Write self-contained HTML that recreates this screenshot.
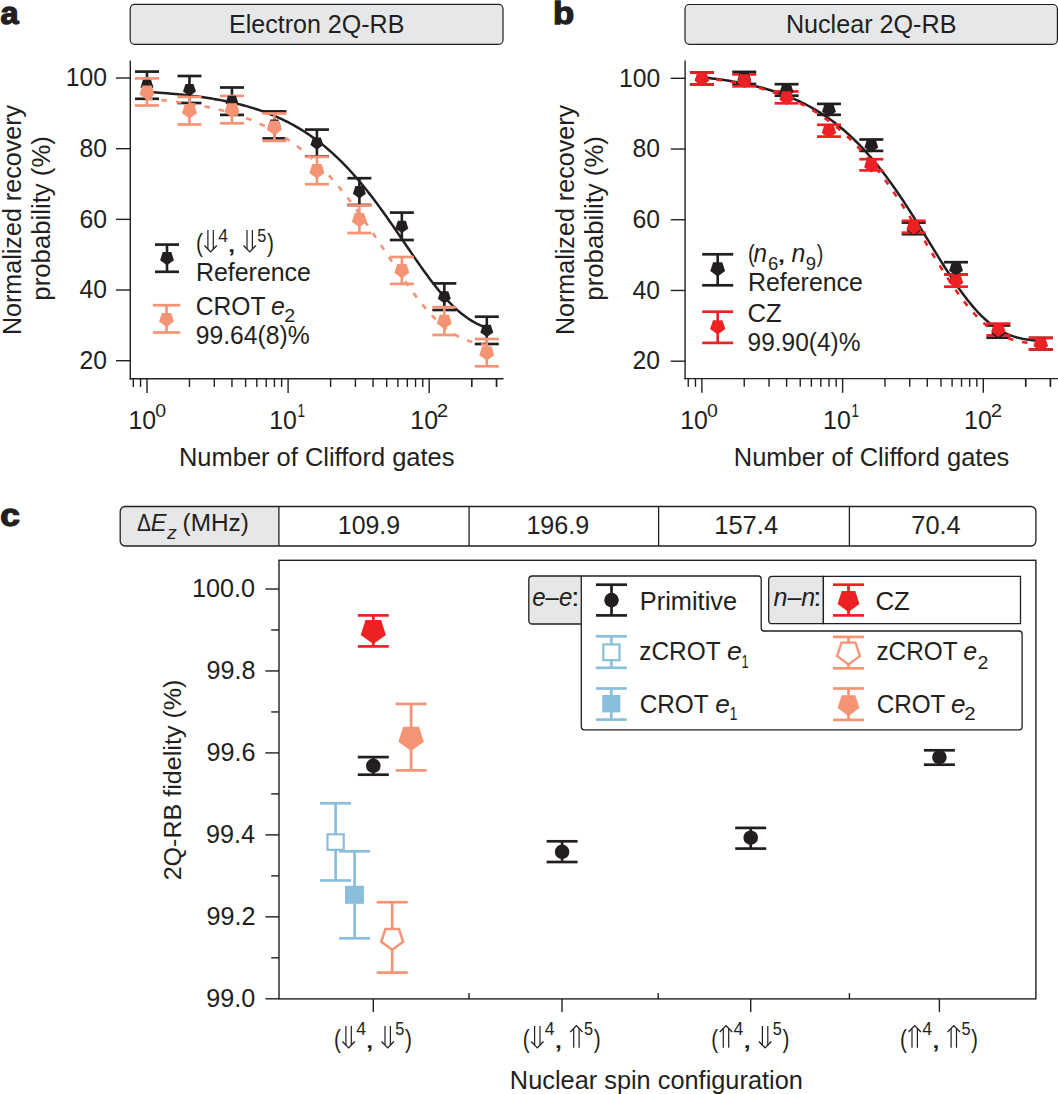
<!DOCTYPE html>
<html><head><meta charset="utf-8"><title>2Q-RB</title>
<style>
html,body{margin:0;padding:0;background:#fff;}
svg{display:block;}
text{font-family:"Liberation Sans",sans-serif;}
</style></head>
<body>
<svg width="1058" height="1094" viewBox="0 0 1058 1094">
<rect width="1058" height="1094" fill="#fff"/>
<text x="0.43" y="23.85" font-size="31.5" textLength="18.09" lengthAdjust="spacingAndGlyphs" fill="#231f20" style="font-weight:bold;"  stroke="#231f20" stroke-width="1.3" stroke-linejoin="round">a</text>
<text x="553.13" y="23.65" font-size="31.0" textLength="21.13" lengthAdjust="spacingAndGlyphs" fill="#231f20" style="font-weight:bold;"  stroke="#231f20" stroke-width="1.3" stroke-linejoin="round">b</text>
<text x="0.34" y="525.85" font-size="31.5" textLength="19.63" lengthAdjust="spacingAndGlyphs" fill="#231f20" style="font-weight:bold;"  stroke="#231f20" stroke-width="1.3" stroke-linejoin="round">c</text>
<rect x="130.20" y="4.40" width="372.80" height="39.90" rx="4.5" ry="4.5" fill="#e6e7e8" stroke="#231f20" stroke-width="1.2"/>
<text x="229.00" y="33.00" font-size="25.8" textLength="175.36" lengthAdjust="spacingAndGlyphs" fill="#231f20" style="" >Electron 2Q-RB</text>
<line x1="130.30" y1="60.40" x2="130.30" y2="379.50" stroke="#231f20" stroke-width="1.4" />
<line x1="129.60" y1="378.80" x2="503.50" y2="378.80" stroke="#231f20" stroke-width="1.4" />
<line x1="116.00" y1="78.00" x2="130.30" y2="78.00" stroke="#231f20" stroke-width="1.4" />
<text x="65.84" y="86.20" font-size="26.0" textLength="41.21" lengthAdjust="spacingAndGlyphs" fill="#231f20" style="" >100</text>
<line x1="116.00" y1="148.68" x2="130.30" y2="148.68" stroke="#231f20" stroke-width="1.4" />
<text x="79.42" y="156.88" font-size="26.0" textLength="27.47" lengthAdjust="spacingAndGlyphs" fill="#231f20" style="" >80</text>
<line x1="116.00" y1="219.36" x2="130.30" y2="219.36" stroke="#231f20" stroke-width="1.4" />
<text x="79.42" y="227.56" font-size="26.0" textLength="27.47" lengthAdjust="spacingAndGlyphs" fill="#231f20" style="" >60</text>
<line x1="116.00" y1="290.04" x2="130.30" y2="290.04" stroke="#231f20" stroke-width="1.4" />
<text x="79.42" y="298.24" font-size="26.0" textLength="27.47" lengthAdjust="spacingAndGlyphs" fill="#231f20" style="" >40</text>
<line x1="116.00" y1="360.72" x2="130.30" y2="360.72" stroke="#231f20" stroke-width="1.4" />
<text x="79.42" y="368.92" font-size="26.0" textLength="27.47" lengthAdjust="spacingAndGlyphs" fill="#231f20" style="" >20</text>
<line x1="147.00" y1="378.80" x2="147.00" y2="393.00" stroke="#231f20" stroke-width="1.4" />
<line x1="189.48" y1="378.80" x2="189.48" y2="387.00" stroke="#231f20" stroke-width="1.4" />
<line x1="214.32" y1="378.80" x2="214.32" y2="387.00" stroke="#231f20" stroke-width="1.4" />
<line x1="231.95" y1="378.80" x2="231.95" y2="387.00" stroke="#231f20" stroke-width="1.4" />
<line x1="245.62" y1="378.80" x2="245.62" y2="387.00" stroke="#231f20" stroke-width="1.4" />
<line x1="256.80" y1="378.80" x2="256.80" y2="387.00" stroke="#231f20" stroke-width="1.4" />
<line x1="266.24" y1="378.80" x2="266.24" y2="387.00" stroke="#231f20" stroke-width="1.4" />
<line x1="274.43" y1="378.80" x2="274.43" y2="387.00" stroke="#231f20" stroke-width="1.4" />
<line x1="281.64" y1="378.80" x2="281.64" y2="387.00" stroke="#231f20" stroke-width="1.4" />
<line x1="288.10" y1="378.80" x2="288.10" y2="393.00" stroke="#231f20" stroke-width="1.4" />
<line x1="330.58" y1="378.80" x2="330.58" y2="387.00" stroke="#231f20" stroke-width="1.4" />
<line x1="355.42" y1="378.80" x2="355.42" y2="387.00" stroke="#231f20" stroke-width="1.4" />
<line x1="373.05" y1="378.80" x2="373.05" y2="387.00" stroke="#231f20" stroke-width="1.4" />
<line x1="386.72" y1="378.80" x2="386.72" y2="387.00" stroke="#231f20" stroke-width="1.4" />
<line x1="397.90" y1="378.80" x2="397.90" y2="387.00" stroke="#231f20" stroke-width="1.4" />
<line x1="407.34" y1="378.80" x2="407.34" y2="387.00" stroke="#231f20" stroke-width="1.4" />
<line x1="415.53" y1="378.80" x2="415.53" y2="387.00" stroke="#231f20" stroke-width="1.4" />
<line x1="422.74" y1="378.80" x2="422.74" y2="387.00" stroke="#231f20" stroke-width="1.4" />
<line x1="429.20" y1="378.80" x2="429.20" y2="393.00" stroke="#231f20" stroke-width="1.4" />
<line x1="471.68" y1="378.80" x2="471.68" y2="387.00" stroke="#231f20" stroke-width="1.4" />
<line x1="496.52" y1="378.80" x2="496.52" y2="387.00" stroke="#231f20" stroke-width="1.4" />
<line x1="133.33" y1="378.80" x2="133.33" y2="387.00" stroke="#231f20" stroke-width="1.4" />
<line x1="140.54" y1="378.80" x2="140.54" y2="387.00" stroke="#231f20" stroke-width="1.4" />
<line x1="471.68" y1="378.80" x2="471.68" y2="387.00" stroke="#231f20" stroke-width="1.4" />
<line x1="496.52" y1="378.80" x2="496.52" y2="387.00" stroke="#231f20" stroke-width="1.4" />
<text x="128.51" y="429.00" font-size="25.9" textLength="27.69" lengthAdjust="spacingAndGlyphs" fill="#231f20" style="" >10</text>
<text x="155.32" y="416.80" font-size="18.5" textLength="10.89" lengthAdjust="spacingAndGlyphs" fill="#231f20" style="" >0</text>
<text x="269.21" y="429.00" font-size="25.9" textLength="27.69" lengthAdjust="spacingAndGlyphs" fill="#231f20" style="" >10</text>
<text x="297.52" y="416.80" font-size="18.5" textLength="7.50" lengthAdjust="spacingAndGlyphs" fill="#231f20" style="" >1</text>
<text x="410.31" y="429.00" font-size="25.9" textLength="27.69" lengthAdjust="spacingAndGlyphs" fill="#231f20" style="" >10</text>
<text x="436.88" y="416.80" font-size="18.5" textLength="11.36" lengthAdjust="spacingAndGlyphs" fill="#231f20" style="" >2</text>
<text x="178.96" y="465.80" font-size="25.8" textLength="275.53" lengthAdjust="spacingAndGlyphs" fill="#231f20" style="" >Number of Clifford gates</text>
<text transform="translate(20.70,335.11) rotate(-90)" x="0" y="0" font-size="25.8" textLength="230.18" lengthAdjust="spacingAndGlyphs" fill="#231f20">Normalized recovery</text>
<text transform="translate(49.60,300.64) rotate(-90)" x="0" y="0" font-size="25.8" textLength="164.51" lengthAdjust="spacingAndGlyphs" fill="#231f20">probability (%)</text>
<line x1="147.00" y1="71.60" x2="147.00" y2="98.80" stroke="#231f20" stroke-width="2.6" />
<line x1="135.00" y1="71.60" x2="159.00" y2="71.60" stroke="#231f20" stroke-width="2.7" />
<line x1="135.00" y1="98.80" x2="159.00" y2="98.80" stroke="#231f20" stroke-width="2.7" />
<line x1="189.48" y1="76.00" x2="189.48" y2="103.00" stroke="#231f20" stroke-width="2.6" />
<line x1="177.48" y1="76.00" x2="201.48" y2="76.00" stroke="#231f20" stroke-width="2.7" />
<line x1="177.48" y1="103.00" x2="201.48" y2="103.00" stroke="#231f20" stroke-width="2.7" />
<line x1="231.95" y1="87.50" x2="231.95" y2="114.90" stroke="#231f20" stroke-width="2.6" />
<line x1="219.95" y1="87.50" x2="243.95" y2="87.50" stroke="#231f20" stroke-width="2.7" />
<line x1="219.95" y1="114.90" x2="243.95" y2="114.90" stroke="#231f20" stroke-width="2.7" />
<line x1="274.43" y1="111.40" x2="274.43" y2="138.40" stroke="#231f20" stroke-width="2.6" />
<line x1="262.43" y1="111.40" x2="286.43" y2="111.40" stroke="#231f20" stroke-width="2.7" />
<line x1="262.43" y1="138.40" x2="286.43" y2="138.40" stroke="#231f20" stroke-width="2.7" />
<line x1="316.90" y1="129.60" x2="316.90" y2="156.40" stroke="#231f20" stroke-width="2.6" />
<line x1="304.90" y1="129.60" x2="328.90" y2="129.60" stroke="#231f20" stroke-width="2.7" />
<line x1="304.90" y1="156.40" x2="328.90" y2="156.40" stroke="#231f20" stroke-width="2.7" />
<line x1="359.38" y1="178.20" x2="359.38" y2="205.00" stroke="#231f20" stroke-width="2.6" />
<line x1="347.38" y1="178.20" x2="371.38" y2="178.20" stroke="#231f20" stroke-width="2.7" />
<line x1="347.38" y1="205.00" x2="371.38" y2="205.00" stroke="#231f20" stroke-width="2.7" />
<line x1="401.85" y1="212.60" x2="401.85" y2="240.00" stroke="#231f20" stroke-width="2.6" />
<line x1="389.85" y1="212.60" x2="413.85" y2="212.60" stroke="#231f20" stroke-width="2.7" />
<line x1="389.85" y1="240.00" x2="413.85" y2="240.00" stroke="#231f20" stroke-width="2.7" />
<line x1="444.33" y1="283.40" x2="444.33" y2="310.00" stroke="#231f20" stroke-width="2.6" />
<line x1="432.33" y1="283.40" x2="456.33" y2="283.40" stroke="#231f20" stroke-width="2.7" />
<line x1="432.33" y1="310.00" x2="456.33" y2="310.00" stroke="#231f20" stroke-width="2.7" />
<line x1="486.80" y1="316.70" x2="486.80" y2="344.00" stroke="#231f20" stroke-width="2.6" />
<line x1="474.80" y1="316.70" x2="498.80" y2="316.70" stroke="#231f20" stroke-width="2.7" />
<line x1="474.80" y1="344.00" x2="498.80" y2="344.00" stroke="#231f20" stroke-width="2.7" />
<polyline points="147.00,91.95 148.70,92.05 150.40,92.15 152.10,92.26 153.80,92.37 155.50,92.48 157.19,92.60 158.89,92.72 160.59,92.84 162.29,92.96 163.99,93.09 165.69,93.23 167.39,93.36 169.09,93.50 170.79,93.65 172.49,93.80 174.18,93.95 175.88,94.10 177.58,94.26 179.28,94.43 180.98,94.60 182.68,94.77 184.38,94.95 186.08,95.14 187.78,95.33 189.48,95.52 191.17,95.72 192.87,95.92 194.57,96.13 196.27,96.35 197.97,96.57 199.67,96.80 201.37,97.03 203.07,97.27 204.77,97.52 206.47,97.77 208.16,98.04 209.86,98.30 211.56,98.58 213.26,98.86 214.96,99.15 216.66,99.45 218.36,99.75 220.06,100.07 221.76,100.39 223.46,100.72 225.15,101.06 226.85,101.41 228.55,101.76 230.25,102.13 231.95,102.51 233.65,102.89 235.35,103.29 237.05,103.70 238.75,104.12 240.45,104.55 242.14,104.99 243.84,105.44 245.54,105.90 247.24,106.38 248.94,106.86 250.64,107.37 252.34,107.88 254.04,108.41 255.74,108.95 257.44,109.50 259.13,110.07 260.83,110.65 262.53,111.25 264.23,111.86 265.93,112.49 267.63,113.13 269.33,113.79 271.03,114.47 272.73,115.16 274.43,115.87 276.13,116.60 277.82,117.35 279.52,118.11 281.22,118.89 282.92,119.70 284.62,120.52 286.32,121.36 288.02,122.22 289.72,123.10 291.42,124.01 293.12,124.93 294.81,125.88 296.51,126.84 298.21,127.83 299.91,128.85 301.61,129.88 303.31,130.95 305.01,132.03 306.71,133.14 308.41,134.27 310.11,135.43 311.80,136.62 313.50,137.83 315.20,139.06 316.90,140.33 318.60,141.62 320.30,142.93 322.00,144.28 323.70,145.65 325.40,147.05 327.10,148.48 328.79,149.94 330.49,151.43 332.19,152.94 333.89,154.49 335.59,156.07 337.29,157.67 338.99,159.31 340.69,160.97 342.39,162.67 344.09,164.39 345.78,166.15 347.48,167.94 349.18,169.75 350.88,171.60 352.58,173.48 354.28,175.38 355.98,177.32 357.68,179.29 359.38,181.28 361.08,183.31 362.77,185.36 364.47,187.45 366.17,189.56 367.87,191.69 369.57,193.86 371.27,196.05 372.97,198.27 374.67,200.51 376.37,202.78 378.07,205.06 379.76,207.38 381.46,209.71 383.16,212.06 384.86,214.44 386.56,216.83 388.26,219.24 389.96,221.66 391.66,224.10 393.36,226.55 395.06,229.01 396.75,231.49 398.45,233.97 400.15,236.46 401.85,238.95 403.55,241.44 405.25,243.94 406.95,246.44 408.65,248.93 410.35,251.42 412.05,253.90 413.75,256.38 415.44,258.84 417.14,261.29 418.84,263.72 420.54,266.14 422.24,268.54 423.94,270.91 425.64,273.26 427.34,275.59 429.04,277.88 430.74,280.15 432.43,282.38 434.13,284.57 435.83,286.73 437.53,288.85 439.23,290.93 440.93,292.97 442.63,294.96 444.33,296.90 446.03,298.80 447.73,300.64 449.42,302.43 451.12,304.18 452.82,305.86 454.52,307.49 456.22,309.07 457.92,310.59 459.62,312.05 461.32,313.46 463.02,314.80 464.72,316.09 466.41,317.32 468.11,318.50 469.81,319.61 471.51,320.67 473.21,321.67 474.91,322.62 476.61,323.51 478.31,324.34 480.01,325.13 481.71,325.86 483.40,326.55 485.10,327.19 486.80,327.78" fill="none" stroke="#231f20" stroke-width="2.5"  stroke-linejoin="round"/>
<polyline points="147.00,98.76 148.70,98.90 150.40,99.05 152.10,99.19 153.80,99.35 155.50,99.50 157.19,99.66 158.89,99.83 160.59,100.00 162.29,100.17 163.99,100.35 165.69,100.53 167.39,100.72 169.09,100.91 170.79,101.11 172.49,101.32 174.18,101.53 175.88,101.74 177.58,101.96 179.28,102.19 180.98,102.42 182.68,102.66 184.38,102.91 186.08,103.16 187.78,103.42 189.48,103.69 191.17,103.96 192.87,104.24 194.57,104.53 196.27,104.83 197.97,105.13 199.67,105.45 201.37,105.77 203.07,106.10 204.77,106.44 206.47,106.78 208.16,107.14 209.86,107.51 211.56,107.88 213.26,108.27 214.96,108.66 216.66,109.07 218.36,109.49 220.06,109.92 221.76,110.36 223.46,110.81 225.15,111.27 226.85,111.74 228.55,112.23 230.25,112.73 231.95,113.24 233.65,113.77 235.35,114.31 237.05,114.86 238.75,115.43 240.45,116.01 242.14,116.61 243.84,117.22 245.54,117.85 247.24,118.49 248.94,119.15 250.64,119.83 252.34,120.52 254.04,121.23 255.74,121.96 257.44,122.71 259.13,123.47 260.83,124.25 262.53,125.06 264.23,125.88 265.93,126.72 267.63,127.58 269.33,128.46 271.03,129.37 272.73,130.29 274.43,131.24 276.13,132.21 277.82,133.20 279.52,134.22 281.22,135.26 282.92,136.32 284.62,137.41 286.32,138.52 288.02,139.66 289.72,140.82 291.42,142.01 293.12,143.22 294.81,144.46 296.51,145.73 298.21,147.03 299.91,148.35 301.61,149.70 303.31,151.08 305.01,152.49 306.71,153.93 308.41,155.39 310.11,156.89 311.80,158.42 313.50,159.97 315.20,161.56 316.90,163.18 318.60,164.82 320.30,166.50 322.00,168.21 323.70,169.95 325.40,171.73 327.10,173.53 328.79,175.36 330.49,177.23 332.19,179.13 333.89,181.06 335.59,183.01 337.29,185.01 338.99,187.03 340.69,189.08 342.39,191.16 344.09,193.27 345.78,195.41 347.48,197.58 349.18,199.78 350.88,202.01 352.58,204.26 354.28,206.54 355.98,208.85 357.68,211.18 359.38,213.53 361.08,215.91 362.77,218.32 364.47,220.74 366.17,223.18 367.87,225.65 369.57,228.13 371.27,230.62 372.97,233.14 374.67,235.66 376.37,238.20 378.07,240.75 379.76,243.31 381.46,245.88 383.16,248.45 384.86,251.02 386.56,253.60 388.26,256.18 389.96,258.75 391.66,261.32 393.36,263.89 395.06,266.44 396.75,268.99 398.45,271.52 400.15,274.04 401.85,276.54 403.55,279.02 405.25,281.48 406.95,283.91 408.65,286.32 410.35,288.70 412.05,291.05 413.75,293.36 415.44,295.64 417.14,297.88 418.84,300.08 420.54,302.24 422.24,304.35 423.94,306.42 425.64,308.44 427.34,310.41 429.04,312.33 430.74,314.20 432.43,316.01 434.13,317.77 435.83,319.47 437.53,321.12 439.23,322.70 440.93,324.23 442.63,325.70 444.33,327.11 446.03,328.46 447.73,329.74 449.42,330.97 451.12,332.14 452.82,333.25 454.52,334.30 456.22,335.29 457.92,336.23 459.62,337.11 461.32,337.94 463.02,338.71 464.72,339.43 466.41,340.11 468.11,340.73 469.81,341.31 471.51,341.84 473.21,342.33 474.91,342.78 476.61,343.19 478.31,343.57 480.01,343.91 481.71,344.22 483.40,344.49 485.10,344.74 486.80,344.97" fill="none" stroke="#f59375" stroke-width="2.6" stroke-dasharray="5.6 8.9" stroke-linejoin="round"/>
<line x1="147.00" y1="78.40" x2="147.00" y2="105.50" stroke="#f59375" stroke-width="2.6" />
<line x1="135.00" y1="78.40" x2="159.00" y2="78.40" stroke="#f59375" stroke-width="2.7" />
<line x1="135.00" y1="105.50" x2="159.00" y2="105.50" stroke="#f59375" stroke-width="2.7" />
<line x1="189.48" y1="96.90" x2="189.48" y2="124.50" stroke="#f59375" stroke-width="2.6" />
<line x1="177.48" y1="96.90" x2="201.48" y2="96.90" stroke="#f59375" stroke-width="2.7" />
<line x1="177.48" y1="124.50" x2="201.48" y2="124.50" stroke="#f59375" stroke-width="2.7" />
<line x1="231.95" y1="95.90" x2="231.95" y2="123.30" stroke="#f59375" stroke-width="2.6" />
<line x1="219.95" y1="95.90" x2="243.95" y2="95.90" stroke="#f59375" stroke-width="2.7" />
<line x1="219.95" y1="123.30" x2="243.95" y2="123.30" stroke="#f59375" stroke-width="2.7" />
<line x1="274.43" y1="113.50" x2="274.43" y2="140.90" stroke="#f59375" stroke-width="2.6" />
<line x1="262.43" y1="113.50" x2="286.43" y2="113.50" stroke="#f59375" stroke-width="2.7" />
<line x1="262.43" y1="140.90" x2="286.43" y2="140.90" stroke="#f59375" stroke-width="2.7" />
<line x1="316.90" y1="156.80" x2="316.90" y2="184.20" stroke="#f59375" stroke-width="2.6" />
<line x1="304.90" y1="156.80" x2="328.90" y2="156.80" stroke="#f59375" stroke-width="2.7" />
<line x1="304.90" y1="184.20" x2="328.90" y2="184.20" stroke="#f59375" stroke-width="2.7" />
<line x1="359.38" y1="205.50" x2="359.38" y2="233.00" stroke="#f59375" stroke-width="2.6" />
<line x1="347.38" y1="205.50" x2="371.38" y2="205.50" stroke="#f59375" stroke-width="2.7" />
<line x1="347.38" y1="233.00" x2="371.38" y2="233.00" stroke="#f59375" stroke-width="2.7" />
<line x1="401.85" y1="257.00" x2="401.85" y2="283.90" stroke="#f59375" stroke-width="2.6" />
<line x1="389.85" y1="257.00" x2="413.85" y2="257.00" stroke="#f59375" stroke-width="2.7" />
<line x1="389.85" y1="283.90" x2="413.85" y2="283.90" stroke="#f59375" stroke-width="2.7" />
<line x1="444.33" y1="307.20" x2="444.33" y2="335.00" stroke="#f59375" stroke-width="2.6" />
<line x1="432.33" y1="307.20" x2="456.33" y2="307.20" stroke="#f59375" stroke-width="2.7" />
<line x1="432.33" y1="335.00" x2="456.33" y2="335.00" stroke="#f59375" stroke-width="2.7" />
<line x1="486.80" y1="339.00" x2="486.80" y2="366.30" stroke="#f59375" stroke-width="2.6" />
<line x1="474.80" y1="339.00" x2="498.80" y2="339.00" stroke="#f59375" stroke-width="2.7" />
<line x1="474.80" y1="366.30" x2="498.80" y2="366.30" stroke="#f59375" stroke-width="2.7" />
<polygon points="147.00,92.00 140.53,87.30 143.00,79.70 151.00,79.70 153.47,87.30" fill="#231f20"/>
<polygon points="189.48,96.30 183.01,91.60 185.48,84.00 193.47,84.00 195.94,91.60" fill="#231f20"/>
<polygon points="231.95,108.00 225.48,103.30 227.95,95.70 235.95,95.70 238.42,103.30" fill="#231f20"/>
<polygon points="274.43,131.70 267.96,127.00 270.43,119.40 278.42,119.40 280.89,127.00" fill="#231f20"/>
<polygon points="316.90,149.80 310.43,145.10 312.90,137.50 320.90,137.50 323.37,145.10" fill="#231f20"/>
<polygon points="359.38,198.40 352.91,193.70 355.38,186.10 363.37,186.10 365.84,193.70" fill="#231f20"/>
<polygon points="401.85,233.10 395.38,228.40 397.86,220.80 405.85,220.80 408.32,228.40" fill="#231f20"/>
<polygon points="444.33,303.50 437.86,298.80 440.33,291.20 448.32,291.20 450.79,298.80" fill="#231f20"/>
<polygon points="486.80,337.10 480.34,332.40 482.81,324.80 490.80,324.80 493.27,332.40" fill="#231f20"/>
<polygon points="147.00,99.90 139.49,94.44 142.36,85.61 151.64,85.61 154.51,94.44" fill="#f59375"/>
<polygon points="189.48,118.60 181.96,113.14 184.83,104.31 194.12,104.31 196.99,113.14" fill="#f59375"/>
<polygon points="231.95,117.50 224.44,112.04 227.31,103.21 236.59,103.21 239.46,112.04" fill="#f59375"/>
<polygon points="274.43,135.10 266.91,129.64 269.78,120.81 279.07,120.81 281.94,129.64" fill="#f59375"/>
<polygon points="316.90,178.40 309.39,172.94 312.26,164.11 321.54,164.11 324.41,172.94" fill="#f59375"/>
<polygon points="359.38,227.20 351.86,221.74 354.73,212.91 364.02,212.91 366.89,221.74" fill="#f59375"/>
<polygon points="401.85,278.30 394.34,272.84 397.21,264.01 406.50,264.01 409.37,272.84" fill="#f59375"/>
<polygon points="444.33,329.00 436.81,323.54 439.68,314.71 448.97,314.71 451.84,323.54" fill="#f59375"/>
<polygon points="486.80,360.60 479.29,355.14 482.16,346.31 491.45,346.31 494.32,355.14" fill="#f59375"/>
<line x1="167.00" y1="244.60" x2="167.00" y2="271.80" stroke="#231f20" stroke-width="2.6" />
<line x1="155.00" y1="244.60" x2="179.00" y2="244.60" stroke="#231f20" stroke-width="2.7" />
<line x1="155.00" y1="271.80" x2="179.00" y2="271.80" stroke="#231f20" stroke-width="2.7" />
<polygon points="167.00,265.30 160.06,260.26 162.71,252.09 171.29,252.09 173.94,260.26" fill="#231f20"/>
<line x1="166.50" y1="305.20" x2="166.50" y2="332.50" stroke="#f59375" stroke-width="2.6" />
<line x1="152.80" y1="305.20" x2="180.20" y2="305.20" stroke="#f59375" stroke-width="2.7" />
<line x1="152.80" y1="332.50" x2="180.20" y2="332.50" stroke="#f59375" stroke-width="2.7" />
<polygon points="166.50,327.00 159.08,321.61 161.92,312.89 171.08,312.89 173.92,321.61" fill="#f59375"/>
<rect x="685.00" y="4.50" width="372.40" height="39.80" rx="4.5" ry="4.5" fill="#e6e7e8" stroke="#231f20" stroke-width="1.2"/>
<text x="785.89" y="33.00" font-size="25.8" textLength="170.56" lengthAdjust="spacingAndGlyphs" fill="#231f20" style="" >Nuclear 2Q-RB</text>
<line x1="685.10" y1="60.40" x2="685.10" y2="379.30" stroke="#231f20" stroke-width="1.4" />
<line x1="684.40" y1="378.60" x2="1058.50" y2="378.60" stroke="#231f20" stroke-width="1.4" />
<line x1="670.80" y1="78.30" x2="685.10" y2="78.30" stroke="#231f20" stroke-width="1.4" />
<text x="619.04" y="86.50" font-size="26.0" textLength="41.21" lengthAdjust="spacingAndGlyphs" fill="#231f20" style="" >100</text>
<line x1="670.80" y1="149.02" x2="685.10" y2="149.02" stroke="#231f20" stroke-width="1.4" />
<text x="632.62" y="157.22" font-size="26.0" textLength="27.47" lengthAdjust="spacingAndGlyphs" fill="#231f20" style="" >80</text>
<line x1="670.80" y1="219.74" x2="685.10" y2="219.74" stroke="#231f20" stroke-width="1.4" />
<text x="632.62" y="227.94" font-size="26.0" textLength="27.47" lengthAdjust="spacingAndGlyphs" fill="#231f20" style="" >60</text>
<line x1="670.80" y1="290.46" x2="685.10" y2="290.46" stroke="#231f20" stroke-width="1.4" />
<text x="632.62" y="298.66" font-size="26.0" textLength="27.47" lengthAdjust="spacingAndGlyphs" fill="#231f20" style="" >40</text>
<line x1="670.80" y1="361.18" x2="685.10" y2="361.18" stroke="#231f20" stroke-width="1.4" />
<text x="632.62" y="369.38" font-size="26.0" textLength="27.47" lengthAdjust="spacingAndGlyphs" fill="#231f20" style="" >20</text>
<line x1="701.90" y1="378.60" x2="701.90" y2="392.80" stroke="#231f20" stroke-width="1.4" />
<line x1="744.25" y1="378.60" x2="744.25" y2="386.80" stroke="#231f20" stroke-width="1.4" />
<line x1="769.03" y1="378.60" x2="769.03" y2="386.80" stroke="#231f20" stroke-width="1.4" />
<line x1="786.61" y1="378.60" x2="786.61" y2="386.80" stroke="#231f20" stroke-width="1.4" />
<line x1="800.25" y1="378.60" x2="800.25" y2="386.80" stroke="#231f20" stroke-width="1.4" />
<line x1="811.39" y1="378.60" x2="811.39" y2="386.80" stroke="#231f20" stroke-width="1.4" />
<line x1="820.81" y1="378.60" x2="820.81" y2="386.80" stroke="#231f20" stroke-width="1.4" />
<line x1="828.96" y1="378.60" x2="828.96" y2="386.80" stroke="#231f20" stroke-width="1.4" />
<line x1="836.16" y1="378.60" x2="836.16" y2="386.80" stroke="#231f20" stroke-width="1.4" />
<line x1="842.60" y1="378.60" x2="842.60" y2="392.80" stroke="#231f20" stroke-width="1.4" />
<line x1="884.95" y1="378.60" x2="884.95" y2="386.80" stroke="#231f20" stroke-width="1.4" />
<line x1="909.73" y1="378.60" x2="909.73" y2="386.80" stroke="#231f20" stroke-width="1.4" />
<line x1="927.31" y1="378.60" x2="927.31" y2="386.80" stroke="#231f20" stroke-width="1.4" />
<line x1="940.95" y1="378.60" x2="940.95" y2="386.80" stroke="#231f20" stroke-width="1.4" />
<line x1="952.09" y1="378.60" x2="952.09" y2="386.80" stroke="#231f20" stroke-width="1.4" />
<line x1="961.51" y1="378.60" x2="961.51" y2="386.80" stroke="#231f20" stroke-width="1.4" />
<line x1="969.66" y1="378.60" x2="969.66" y2="386.80" stroke="#231f20" stroke-width="1.4" />
<line x1="976.86" y1="378.60" x2="976.86" y2="386.80" stroke="#231f20" stroke-width="1.4" />
<line x1="983.30" y1="378.60" x2="983.30" y2="392.80" stroke="#231f20" stroke-width="1.4" />
<line x1="1025.65" y1="378.60" x2="1025.65" y2="386.80" stroke="#231f20" stroke-width="1.4" />
<line x1="1050.43" y1="378.60" x2="1050.43" y2="386.80" stroke="#231f20" stroke-width="1.4" />
<line x1="688.26" y1="378.60" x2="688.26" y2="386.80" stroke="#231f20" stroke-width="1.4" />
<line x1="695.46" y1="378.60" x2="695.46" y2="386.80" stroke="#231f20" stroke-width="1.4" />
<line x1="1025.65" y1="378.60" x2="1025.65" y2="386.80" stroke="#231f20" stroke-width="1.4" />
<line x1="1050.43" y1="378.60" x2="1050.43" y2="386.80" stroke="#231f20" stroke-width="1.4" />
<text x="680.21" y="428.80" font-size="25.9" textLength="27.69" lengthAdjust="spacingAndGlyphs" fill="#231f20" style="" >10</text>
<text x="707.02" y="416.60" font-size="18.5" textLength="10.89" lengthAdjust="spacingAndGlyphs" fill="#231f20" style="" >0</text>
<text x="823.11" y="428.80" font-size="25.9" textLength="27.69" lengthAdjust="spacingAndGlyphs" fill="#231f20" style="" >10</text>
<text x="851.42" y="416.60" font-size="18.5" textLength="7.50" lengthAdjust="spacingAndGlyphs" fill="#231f20" style="" >1</text>
<text x="964.11" y="428.80" font-size="25.9" textLength="27.69" lengthAdjust="spacingAndGlyphs" fill="#231f20" style="" >10</text>
<text x="990.68" y="416.60" font-size="18.5" textLength="11.36" lengthAdjust="spacingAndGlyphs" fill="#231f20" style="" >2</text>
<text x="733.76" y="465.80" font-size="25.8" textLength="275.53" lengthAdjust="spacingAndGlyphs" fill="#231f20" style="" >Number of Clifford gates</text>
<text transform="translate(574.00,335.11) rotate(-90)" x="0" y="0" font-size="25.8" textLength="230.18" lengthAdjust="spacingAndGlyphs" fill="#231f20">Normalized recovery</text>
<text transform="translate(602.60,300.64) rotate(-90)" x="0" y="0" font-size="25.8" textLength="164.51" lengthAdjust="spacingAndGlyphs" fill="#231f20">probability (%)</text>
<line x1="701.90" y1="72.50" x2="701.90" y2="84.40" stroke="#231f20" stroke-width="2.6" />
<line x1="689.90" y1="72.50" x2="713.90" y2="72.50" stroke="#231f20" stroke-width="2.7" />
<line x1="689.90" y1="84.40" x2="713.90" y2="84.40" stroke="#231f20" stroke-width="2.7" />
<line x1="744.25" y1="71.90" x2="744.25" y2="84.00" stroke="#231f20" stroke-width="2.6" />
<line x1="732.25" y1="71.90" x2="756.25" y2="71.90" stroke="#231f20" stroke-width="2.7" />
<line x1="732.25" y1="84.00" x2="756.25" y2="84.00" stroke="#231f20" stroke-width="2.7" />
<line x1="786.61" y1="84.20" x2="786.61" y2="95.70" stroke="#231f20" stroke-width="2.6" />
<line x1="774.61" y1="84.20" x2="798.61" y2="84.20" stroke="#231f20" stroke-width="2.7" />
<line x1="774.61" y1="95.70" x2="798.61" y2="95.70" stroke="#231f20" stroke-width="2.7" />
<line x1="828.96" y1="103.90" x2="828.96" y2="114.80" stroke="#231f20" stroke-width="2.6" />
<line x1="816.96" y1="103.90" x2="840.96" y2="103.90" stroke="#231f20" stroke-width="2.7" />
<line x1="816.96" y1="114.80" x2="840.96" y2="114.80" stroke="#231f20" stroke-width="2.7" />
<line x1="871.32" y1="139.50" x2="871.32" y2="150.90" stroke="#231f20" stroke-width="2.6" />
<line x1="859.32" y1="139.50" x2="883.32" y2="139.50" stroke="#231f20" stroke-width="2.7" />
<line x1="859.32" y1="150.90" x2="883.32" y2="150.90" stroke="#231f20" stroke-width="2.7" />
<line x1="913.67" y1="222.60" x2="913.67" y2="234.20" stroke="#231f20" stroke-width="2.6" />
<line x1="901.67" y1="222.60" x2="925.67" y2="222.60" stroke="#231f20" stroke-width="2.7" />
<line x1="901.67" y1="234.20" x2="925.67" y2="234.20" stroke="#231f20" stroke-width="2.7" />
<line x1="956.03" y1="262.20" x2="956.03" y2="274.60" stroke="#231f20" stroke-width="2.6" />
<line x1="944.03" y1="262.20" x2="968.03" y2="262.20" stroke="#231f20" stroke-width="2.7" />
<line x1="944.03" y1="274.60" x2="968.03" y2="274.60" stroke="#231f20" stroke-width="2.7" />
<line x1="998.38" y1="325.50" x2="998.38" y2="337.70" stroke="#231f20" stroke-width="2.6" />
<line x1="986.38" y1="325.50" x2="1010.38" y2="325.50" stroke="#231f20" stroke-width="2.7" />
<line x1="986.38" y1="337.70" x2="1010.38" y2="337.70" stroke="#231f20" stroke-width="2.7" />
<line x1="1040.74" y1="337.90" x2="1040.74" y2="349.50" stroke="#231f20" stroke-width="2.6" />
<line x1="1028.74" y1="337.90" x2="1052.74" y2="337.90" stroke="#231f20" stroke-width="2.7" />
<line x1="1028.74" y1="349.50" x2="1052.74" y2="349.50" stroke="#231f20" stroke-width="2.7" />
<polyline points="701.90,77.27 703.59,77.45 705.29,77.63 706.98,77.82 708.68,78.02 710.37,78.22 712.07,78.43 713.76,78.64 715.45,78.86 717.15,79.08 718.84,79.31 720.54,79.55 722.23,79.79 723.92,80.04 725.62,80.29 727.31,80.56 729.01,80.83 730.70,81.10 732.40,81.39 734.09,81.68 735.78,81.98 737.48,82.29 739.17,82.61 740.87,82.93 742.56,83.27 744.25,83.61 745.95,83.96 747.64,84.32 749.34,84.69 751.03,85.07 752.73,85.46 754.42,85.87 756.11,86.28 757.81,86.70 759.50,87.13 761.20,87.58 762.89,88.04 764.59,88.51 766.28,88.99 767.97,89.48 769.67,89.99 771.36,90.51 773.06,91.04 774.75,91.59 776.44,92.15 778.14,92.73 779.83,93.32 781.53,93.92 783.22,94.55 784.92,95.18 786.61,95.84 788.30,96.51 790.00,97.19 791.69,97.90 793.39,98.62 795.08,99.36 796.78,100.12 798.47,100.90 800.16,101.69 801.86,102.51 803.55,103.35 805.25,104.20 806.94,105.08 808.63,105.98 810.33,106.90 812.02,107.84 813.72,108.81 815.41,109.80 817.11,110.81 818.80,111.84 820.49,112.90 822.19,113.99 823.88,115.10 825.58,116.23 827.27,117.39 828.96,118.58 830.66,119.79 832.35,121.04 834.05,122.31 835.74,123.60 837.44,124.93 839.13,126.28 840.82,127.67 842.52,129.08 844.21,130.52 845.91,132.00 847.60,133.50 849.30,135.04 850.99,136.61 852.68,138.20 854.38,139.83 856.07,141.50 857.77,143.19 859.46,144.92 861.15,146.68 862.85,148.47 864.54,150.30 866.24,152.16 867.93,154.06 869.63,155.98 871.32,157.94 873.01,159.94 874.71,161.97 876.40,164.03 878.10,166.12 879.79,168.25 881.48,170.41 883.18,172.60 884.87,174.83 886.57,177.09 888.26,179.37 889.96,181.69 891.65,184.05 893.34,186.43 895.04,188.84 896.73,191.27 898.43,193.74 900.12,196.24 901.82,198.76 903.51,201.30 905.20,203.87 906.90,206.46 908.59,209.08 910.29,211.71 911.98,214.37 913.67,217.04 915.37,219.73 917.06,222.43 918.76,225.15 920.45,227.88 922.15,230.62 923.84,233.37 925.53,236.12 927.23,238.88 928.92,241.64 930.62,244.40 932.31,247.16 934.00,249.91 935.70,252.66 937.39,255.40 939.09,258.13 940.78,260.84 942.48,263.54 944.17,266.22 945.86,268.88 947.56,271.52 949.25,274.13 950.95,276.71 952.64,279.26 954.34,281.78 956.03,284.26 957.72,286.71 959.42,289.11 961.11,291.48 962.81,293.79 964.50,296.06 966.19,298.29 967.89,300.46 969.58,302.57 971.28,304.64 972.97,306.65 974.67,308.60 976.36,310.49 978.05,312.32 979.75,314.09 981.44,315.79 983.14,317.44 984.83,319.02 986.53,320.53 988.22,321.98 989.91,323.37 991.61,324.70 993.30,325.95 995.00,327.15 996.69,328.28 998.38,329.36 1000.08,330.37 1001.77,331.32 1003.47,332.21 1005.16,333.05 1006.86,333.83 1008.55,334.55 1010.24,335.23 1011.94,335.85 1013.63,336.43 1015.33,336.96 1017.02,337.45 1018.71,337.89 1020.41,338.30 1022.10,338.67 1023.80,339.00 1025.49,339.30 1027.19,339.58 1028.88,339.82 1030.57,340.03 1032.27,340.23 1033.96,340.40 1035.66,340.55 1037.35,340.68 1039.05,340.79 1040.74,340.89" fill="none" stroke="#231f20" stroke-width="2.5"  stroke-linejoin="round"/>
<polyline points="701.90,77.70 703.59,77.89 705.29,78.09 706.98,78.29 708.68,78.49 710.37,78.70 712.07,78.92 713.76,79.15 715.45,79.38 717.15,79.61 718.84,79.86 720.54,80.10 722.23,80.36 723.92,80.62 725.62,80.89 727.31,81.17 729.01,81.46 730.70,81.75 732.40,82.05 734.09,82.36 735.78,82.67 737.48,83.00 739.17,83.33 740.87,83.68 742.56,84.03 744.25,84.39 745.95,84.76 747.64,85.14 749.34,85.53 751.03,85.94 752.73,86.35 754.42,86.77 756.11,87.21 757.81,87.65 759.50,88.11 761.20,88.58 762.89,89.06 764.59,89.55 766.28,90.06 767.97,90.58 769.67,91.12 771.36,91.66 773.06,92.23 774.75,92.80 776.44,93.39 778.14,94.00 779.83,94.62 781.53,95.26 783.22,95.91 784.92,96.59 786.61,97.27 788.30,97.98 790.00,98.70 791.69,99.44 793.39,100.20 795.08,100.98 796.78,101.78 798.47,102.59 800.16,103.43 801.86,104.29 803.55,105.17 805.25,106.07 806.94,106.99 808.63,107.94 810.33,108.90 812.02,109.89 813.72,110.91 815.41,111.94 817.11,113.00 818.80,114.09 820.49,115.20 822.19,116.34 823.88,117.50 825.58,118.69 827.27,119.91 828.96,121.15 830.66,122.43 832.35,123.73 834.05,125.05 835.74,126.41 837.44,127.80 839.13,129.22 840.82,130.66 842.52,132.14 844.21,133.65 845.91,135.19 847.60,136.76 849.30,138.36 850.99,140.00 852.68,141.67 854.38,143.37 856.07,145.10 857.77,146.87 859.46,148.67 861.15,150.50 862.85,152.37 864.54,154.27 866.24,156.20 867.93,158.17 869.63,160.17 871.32,162.21 873.01,164.28 874.71,166.38 876.40,168.52 878.10,170.69 879.79,172.89 881.48,175.13 883.18,177.39 884.87,179.70 886.57,182.03 888.26,184.39 889.96,186.78 891.65,189.21 893.34,191.66 895.04,194.14 896.73,196.65 898.43,199.19 900.12,201.75 901.82,204.33 903.51,206.94 905.20,209.58 906.90,212.23 908.59,214.90 910.29,217.60 911.98,220.31 913.67,223.03 915.37,225.77 917.06,228.52 918.76,231.29 920.45,234.06 922.15,236.84 923.84,239.62 925.53,242.41 927.23,245.20 928.92,247.98 930.62,250.77 932.31,253.54 934.00,256.31 935.70,259.07 937.39,261.82 939.09,264.55 940.78,267.26 942.48,269.95 944.17,272.63 945.86,275.27 947.56,277.89 949.25,280.48 950.95,283.03 952.64,285.55 954.34,288.03 956.03,290.48 957.72,292.88 959.42,295.23 961.11,297.54 962.81,299.80 964.50,302.01 966.19,304.17 967.89,306.28 969.58,308.32 971.28,310.31 972.97,312.24 974.67,314.11 976.36,315.92 978.05,317.66 979.75,319.35 981.44,320.96 983.14,322.52 984.83,324.01 986.53,325.43 988.22,326.79 989.91,328.08 991.61,329.31 993.30,330.48 995.00,331.58 996.69,332.63 998.38,333.61 1000.08,334.53 1001.77,335.39 1003.47,336.20 1005.16,336.95 1006.86,337.65 1008.55,338.30 1010.24,338.90 1011.94,339.45 1013.63,339.96 1015.33,340.42 1017.02,340.85 1018.71,341.23 1020.41,341.58 1022.10,341.90 1023.80,342.18 1025.49,342.44 1027.19,342.66 1028.88,342.87 1030.57,343.04 1032.27,343.20 1033.96,343.34 1035.66,343.46 1037.35,343.57 1039.05,343.66 1040.74,343.74" fill="none" stroke="#ed2024" stroke-width="2.6" stroke-dasharray="5.6 8.9" stroke-linejoin="round"/>
<line x1="701.90" y1="72.50" x2="701.90" y2="84.40" stroke="#ed2024" stroke-width="2.6" />
<line x1="689.90" y1="72.50" x2="713.90" y2="72.50" stroke="#ed2024" stroke-width="2.7" />
<line x1="689.90" y1="84.40" x2="713.90" y2="84.40" stroke="#ed2024" stroke-width="2.7" />
<line x1="744.25" y1="74.40" x2="744.25" y2="86.30" stroke="#ed2024" stroke-width="2.6" />
<line x1="732.25" y1="74.40" x2="756.25" y2="74.40" stroke="#ed2024" stroke-width="2.7" />
<line x1="732.25" y1="86.30" x2="756.25" y2="86.30" stroke="#ed2024" stroke-width="2.7" />
<line x1="786.61" y1="91.40" x2="786.61" y2="103.30" stroke="#ed2024" stroke-width="2.6" />
<line x1="774.61" y1="91.40" x2="798.61" y2="91.40" stroke="#ed2024" stroke-width="2.7" />
<line x1="774.61" y1="103.30" x2="798.61" y2="103.30" stroke="#ed2024" stroke-width="2.7" />
<line x1="828.96" y1="124.80" x2="828.96" y2="136.60" stroke="#ed2024" stroke-width="2.6" />
<line x1="816.96" y1="124.80" x2="840.96" y2="124.80" stroke="#ed2024" stroke-width="2.7" />
<line x1="816.96" y1="136.60" x2="840.96" y2="136.60" stroke="#ed2024" stroke-width="2.7" />
<line x1="871.32" y1="159.20" x2="871.32" y2="170.40" stroke="#ed2024" stroke-width="2.6" />
<line x1="859.32" y1="159.20" x2="883.32" y2="159.20" stroke="#ed2024" stroke-width="2.7" />
<line x1="859.32" y1="170.40" x2="883.32" y2="170.40" stroke="#ed2024" stroke-width="2.7" />
<line x1="913.67" y1="220.80" x2="913.67" y2="232.70" stroke="#ed2024" stroke-width="2.6" />
<line x1="901.67" y1="220.80" x2="925.67" y2="220.80" stroke="#ed2024" stroke-width="2.7" />
<line x1="901.67" y1="232.70" x2="925.67" y2="232.70" stroke="#ed2024" stroke-width="2.7" />
<line x1="956.03" y1="274.70" x2="956.03" y2="286.70" stroke="#ed2024" stroke-width="2.6" />
<line x1="944.03" y1="274.70" x2="968.03" y2="274.70" stroke="#ed2024" stroke-width="2.7" />
<line x1="944.03" y1="286.70" x2="968.03" y2="286.70" stroke="#ed2024" stroke-width="2.7" />
<line x1="998.38" y1="323.60" x2="998.38" y2="335.40" stroke="#ed2024" stroke-width="2.6" />
<line x1="986.38" y1="323.60" x2="1010.38" y2="323.60" stroke="#ed2024" stroke-width="2.7" />
<line x1="986.38" y1="335.40" x2="1010.38" y2="335.40" stroke="#ed2024" stroke-width="2.7" />
<line x1="1040.74" y1="337.90" x2="1040.74" y2="349.50" stroke="#ed2024" stroke-width="2.6" />
<line x1="1028.74" y1="337.90" x2="1052.74" y2="337.90" stroke="#ed2024" stroke-width="2.7" />
<line x1="1028.74" y1="349.50" x2="1052.74" y2="349.50" stroke="#ed2024" stroke-width="2.7" />
<polygon points="701.90,85.80 694.96,80.76 697.61,72.59 706.19,72.59 708.84,80.76" fill="#231f20"/>
<polygon points="744.25,85.30 737.31,80.26 739.96,72.09 748.55,72.09 751.20,80.26" fill="#231f20"/>
<polygon points="786.61,97.30 779.67,92.26 782.32,84.09 790.90,84.09 793.55,92.26" fill="#231f20"/>
<polygon points="828.96,116.70 822.02,111.66 824.67,103.49 833.26,103.49 835.91,111.66" fill="#231f20"/>
<polygon points="871.32,152.50 864.38,147.46 867.03,139.29 875.61,139.29 878.26,147.46" fill="#231f20"/>
<polygon points="913.67,235.70 906.73,230.66 909.38,222.49 917.97,222.49 920.62,230.66" fill="#231f20"/>
<polygon points="956.03,275.70 949.09,270.66 951.74,262.49 960.32,262.49 962.97,270.66" fill="#231f20"/>
<polygon points="998.38,338.90 991.44,333.86 994.09,325.69 1002.68,325.69 1005.33,333.86" fill="#231f20"/>
<polygon points="1040.74,351.00 1033.80,345.96 1036.45,337.79 1045.03,337.79 1047.68,345.96" fill="#231f20"/>
<polygon points="701.90,86.10 694.67,80.85 697.43,72.35 706.37,72.35 709.13,80.85" fill="#ed2024"/>
<polygon points="744.25,88.00 737.03,82.75 739.79,74.25 748.72,74.25 751.48,82.75" fill="#ed2024"/>
<polygon points="786.61,105.00 779.38,99.75 782.14,91.25 791.08,91.25 793.84,99.75" fill="#ed2024"/>
<polygon points="828.96,138.30 821.74,133.05 824.50,124.55 833.43,124.55 836.19,133.05" fill="#ed2024"/>
<polygon points="871.32,172.40 864.09,167.15 866.85,158.65 875.79,158.65 878.55,167.15" fill="#ed2024"/>
<polygon points="913.67,234.40 906.45,229.15 909.21,220.65 918.14,220.65 920.90,229.15" fill="#ed2024"/>
<polygon points="956.03,288.30 948.80,283.05 951.56,274.55 960.50,274.55 963.26,283.05" fill="#ed2024"/>
<polygon points="998.38,337.10 991.16,331.85 993.92,323.35 1002.85,323.35 1005.61,331.85" fill="#ed2024"/>
<polygon points="1040.74,351.30 1033.51,346.05 1036.27,337.55 1045.21,337.55 1047.97,346.05" fill="#ed2024"/>
<line x1="717.70" y1="254.30" x2="717.70" y2="285.30" stroke="#231f20" stroke-width="2.6" />
<line x1="702.20" y1="254.30" x2="733.20" y2="254.30" stroke="#231f20" stroke-width="2.7" />
<line x1="702.20" y1="285.30" x2="733.20" y2="285.30" stroke="#231f20" stroke-width="2.7" />
<polygon points="717.70,276.40 710.28,271.01 713.12,262.29 722.28,262.29 725.12,271.01" fill="#231f20"/>
<line x1="717.70" y1="311.70" x2="717.70" y2="342.90" stroke="#ed2024" stroke-width="2.6" />
<line x1="702.20" y1="311.70" x2="733.20" y2="311.70" stroke="#ed2024" stroke-width="2.7" />
<line x1="702.20" y1="342.90" x2="733.20" y2="342.90" stroke="#ed2024" stroke-width="2.7" />
<polygon points="717.70,334.60 710.09,329.07 713.00,320.13 722.40,320.13 725.31,329.07" fill="#ed2024"/>
<text x="195.95" y="251.60" font-size="25.0" textLength="6.92" lengthAdjust="spacingAndGlyphs" fill="#231f20" style="" >(</text>
<path d="M204.40,245.50 L210.60,251.90 L216.80,245.50" fill="none" stroke="#231f20" stroke-width="1.35"/>
<path d="M207.90,230.00 V249.00 M213.30,230.00 V249.00" fill="none" stroke="#231f20" stroke-width="1.2"/>
<text x="218.15" y="241.70" font-size="18.3" textLength="9.81" lengthAdjust="spacingAndGlyphs" fill="#231f20" style="" >4</text>
<text x="226.57" y="251.60" font-size="25.0" textLength="10.28" lengthAdjust="spacingAndGlyphs" fill="#231f20" style="" >,</text>
<path d="M243.50,245.50 L249.70,251.90 L255.90,245.50" fill="none" stroke="#231f20" stroke-width="1.35"/>
<path d="M247.00,230.00 V249.00 M252.40,230.00 V249.00" fill="none" stroke="#231f20" stroke-width="1.2"/>
<text x="257.35" y="241.70" font-size="18.3" textLength="9.04" lengthAdjust="spacingAndGlyphs" fill="#231f20" style="" >5</text>
<text x="266.99" y="251.60" font-size="25.0" textLength="6.92" lengthAdjust="spacingAndGlyphs" fill="#231f20" style="" >)</text>
<text x="195.90" y="280.80" font-size="25.8" textLength="115.08" lengthAdjust="spacingAndGlyphs" fill="#231f20" style="" >Reference</text>
<text x="195.77" y="315.00" font-size="25.8" textLength="69.80" lengthAdjust="spacingAndGlyphs" fill="#231f20" style="" >CROT</text>
<text x="270.95" y="315.00" font-size="25.8" textLength="13.85" lengthAdjust="spacingAndGlyphs" fill="#231f20" style="font-style:italic;" >e</text>
<text x="284.21" y="321.80" font-size="18.5" textLength="11.00" lengthAdjust="spacingAndGlyphs" fill="#231f20" style="" >2</text>
<text x="195.77" y="344.10" font-size="25.8" textLength="113.91" lengthAdjust="spacingAndGlyphs" fill="#231f20" style="" >99.64(8)%</text>
<text x="747.98" y="261.90" font-size="24.8" textLength="6.79" lengthAdjust="spacingAndGlyphs" fill="#231f20" style="" >(</text>
<text x="753.51" y="261.90" font-size="25.4" textLength="13.51" lengthAdjust="spacingAndGlyphs" fill="#231f20" style="font-style:italic;" >n</text>
<text x="767.98" y="269.80" font-size="17.8" textLength="10.28" lengthAdjust="spacingAndGlyphs" fill="#231f20" style="" >6</text>
<text x="775.99" y="261.90" font-size="24.8" textLength="10.83" lengthAdjust="spacingAndGlyphs" fill="#231f20" style="" >,</text>
<text x="791.50" y="261.90" font-size="25.4" textLength="13.85" lengthAdjust="spacingAndGlyphs" fill="#231f20" style="font-style:italic;" >n</text>
<text x="805.88" y="269.80" font-size="17.8" textLength="10.28" lengthAdjust="spacingAndGlyphs" fill="#231f20" style="" >9</text>
<text x="816.80" y="261.90" font-size="24.8" textLength="6.53" lengthAdjust="spacingAndGlyphs" fill="#231f20" style="" >)</text>
<text x="748.01" y="290.80" font-size="25.8" textLength="114.87" lengthAdjust="spacingAndGlyphs" fill="#231f20" style="" >Reference</text>
<text x="747.52" y="322.10" font-size="25.8" textLength="34.23" lengthAdjust="spacingAndGlyphs" fill="#231f20" style="" >CZ</text>
<text x="747.58" y="351.00" font-size="25.8" textLength="112.89" lengthAdjust="spacingAndGlyphs" fill="#231f20" style="" >99.90(4)%</text>
<path d="M278.9,506.5 H125.2 Q120.2,506.5 120.2,511.5 V541.0 Q120.2,546.0 125.2,546.0 H278.9 Z" fill="#e6e7e8"/>
<rect x="120.2" y="506.5" width="915.7" height="39.5" rx="5" ry="5" fill="none" stroke="#231f20" stroke-width="1.3"/>
<line x1="278.90" y1="506.50" x2="278.90" y2="546.00" stroke="#231f20" stroke-width="1.3" />
<line x1="469.10" y1="506.50" x2="469.10" y2="546.00" stroke="#231f20" stroke-width="1.3" />
<line x1="658.60" y1="506.50" x2="658.60" y2="546.00" stroke="#231f20" stroke-width="1.3" />
<line x1="849.40" y1="506.50" x2="849.40" y2="546.00" stroke="#231f20" stroke-width="1.3" />
<text x="136.98" y="531.40" font-size="23.3" textLength="13.91" lengthAdjust="spacingAndGlyphs" fill="#231f20" style="" >Δ</text>
<text x="150.79" y="531.40" font-size="23.3" textLength="15.80" lengthAdjust="spacingAndGlyphs" fill="#231f20" style="font-style:italic;" >E</text>
<text x="167.10" y="539.40" font-size="18.5" textLength="9.80" lengthAdjust="spacingAndGlyphs" fill="#231f20" style="font-style:italic;" >z</text>
<text x="182.64" y="531.40" font-size="23.3" textLength="66.25" lengthAdjust="spacingAndGlyphs" fill="#231f20" style="" >(MHz)</text>
<text x="337.81" y="533.90" font-size="25.5" textLength="62.24" lengthAdjust="spacingAndGlyphs" fill="#231f20" style="" >109.9</text>
<text x="526.39" y="533.90" font-size="25.5" textLength="62.87" lengthAdjust="spacingAndGlyphs" fill="#231f20" style="" >196.9</text>
<text x="714.26" y="533.90" font-size="25.5" textLength="63.81" lengthAdjust="spacingAndGlyphs" fill="#231f20" style="" >157.4</text>
<text x="911.33" y="533.90" font-size="25.5" textLength="49.33" lengthAdjust="spacingAndGlyphs" fill="#231f20" style="" >70.4</text>
<rect x="279.0" y="560.3" width="756.9000000000001" height="438.6" fill="none" stroke="#231f20" stroke-width="1.4"/>
<line x1="265.40" y1="589.00" x2="279.00" y2="589.00" stroke="#231f20" stroke-width="1.4" />
<text x="192.02" y="597.00" font-size="25.6" textLength="63.10" lengthAdjust="spacingAndGlyphs" fill="#231f20" style="" >100.0</text>
<line x1="271.20" y1="629.98" x2="279.00" y2="629.98" stroke="#231f20" stroke-width="1.4" />
<line x1="265.40" y1="670.96" x2="279.00" y2="670.96" stroke="#231f20" stroke-width="1.4" />
<text x="206.39" y="678.96" font-size="25.6" textLength="49.07" lengthAdjust="spacingAndGlyphs" fill="#231f20" style="" >99.8</text>
<line x1="271.20" y1="711.94" x2="279.00" y2="711.94" stroke="#231f20" stroke-width="1.4" />
<line x1="265.40" y1="752.92" x2="279.00" y2="752.92" stroke="#231f20" stroke-width="1.4" />
<text x="206.39" y="760.92" font-size="25.6" textLength="49.07" lengthAdjust="spacingAndGlyphs" fill="#231f20" style="" >99.6</text>
<line x1="271.20" y1="793.90" x2="279.00" y2="793.90" stroke="#231f20" stroke-width="1.4" />
<line x1="265.40" y1="834.88" x2="279.00" y2="834.88" stroke="#231f20" stroke-width="1.4" />
<text x="205.89" y="842.88" font-size="25.6" textLength="49.07" lengthAdjust="spacingAndGlyphs" fill="#231f20" style="" >99.4</text>
<line x1="271.20" y1="875.86" x2="279.00" y2="875.86" stroke="#231f20" stroke-width="1.4" />
<line x1="265.40" y1="916.84" x2="279.00" y2="916.84" stroke="#231f20" stroke-width="1.4" />
<text x="206.39" y="924.84" font-size="25.6" textLength="49.07" lengthAdjust="spacingAndGlyphs" fill="#231f20" style="" >99.2</text>
<line x1="271.20" y1="957.82" x2="279.00" y2="957.82" stroke="#231f20" stroke-width="1.4" />
<line x1="265.40" y1="998.80" x2="279.00" y2="998.80" stroke="#231f20" stroke-width="1.4" />
<text x="206.14" y="1006.80" font-size="25.6" textLength="49.07" lengthAdjust="spacingAndGlyphs" fill="#231f20" style="" >99.0</text>
<line x1="373.30" y1="998.90" x2="373.30" y2="1011.90" stroke="#231f20" stroke-width="1.4" />
<line x1="562.00" y1="998.90" x2="562.00" y2="1011.90" stroke="#231f20" stroke-width="1.4" />
<line x1="750.70" y1="998.90" x2="750.70" y2="1011.90" stroke="#231f20" stroke-width="1.4" />
<line x1="939.40" y1="998.90" x2="939.40" y2="1011.90" stroke="#231f20" stroke-width="1.4" />
<line x1="469.00" y1="998.90" x2="469.00" y2="993.10" stroke="#231f20" stroke-width="1.4" />
<line x1="658.20" y1="998.90" x2="658.20" y2="993.10" stroke="#231f20" stroke-width="1.4" />
<line x1="849.40" y1="998.90" x2="849.40" y2="993.10" stroke="#231f20" stroke-width="1.4" />
<text x="333.95" y="1047.60" font-size="25.0" textLength="6.92" lengthAdjust="spacingAndGlyphs" fill="#231f20" style="" >(</text>
<path d="M342.40,1041.50 L348.60,1047.90 L354.80,1041.50" fill="none" stroke="#231f20" stroke-width="1.35"/>
<path d="M345.90,1026.00 V1045.00 M351.30,1026.00 V1045.00" fill="none" stroke="#231f20" stroke-width="1.2"/>
<text x="356.15" y="1034.90" font-size="18.3" textLength="9.81" lengthAdjust="spacingAndGlyphs" fill="#231f20" style="" >4</text>
<text x="364.57" y="1047.60" font-size="25.0" textLength="10.28" lengthAdjust="spacingAndGlyphs" fill="#231f20" style="" >,</text>
<path d="M381.50,1041.50 L387.70,1047.90 L393.90,1041.50" fill="none" stroke="#231f20" stroke-width="1.35"/>
<path d="M385.00,1026.00 V1045.00 M390.40,1026.00 V1045.00" fill="none" stroke="#231f20" stroke-width="1.2"/>
<text x="395.35" y="1034.90" font-size="18.3" textLength="9.04" lengthAdjust="spacingAndGlyphs" fill="#231f20" style="" >5</text>
<text x="404.99" y="1047.60" font-size="25.0" textLength="6.92" lengthAdjust="spacingAndGlyphs" fill="#231f20" style="" >)</text>
<text x="522.65" y="1047.60" font-size="25.0" textLength="6.92" lengthAdjust="spacingAndGlyphs" fill="#231f20" style="" >(</text>
<path d="M531.10,1041.50 L537.30,1047.90 L543.50,1041.50" fill="none" stroke="#231f20" stroke-width="1.35"/>
<path d="M534.60,1026.00 V1045.00 M540.00,1026.00 V1045.00" fill="none" stroke="#231f20" stroke-width="1.2"/>
<text x="544.85" y="1034.90" font-size="18.3" textLength="9.81" lengthAdjust="spacingAndGlyphs" fill="#231f20" style="" >4</text>
<text x="553.27" y="1047.60" font-size="25.0" textLength="10.28" lengthAdjust="spacingAndGlyphs" fill="#231f20" style="" >,</text>
<path d="M570.20,1032.00 L576.40,1025.60 L582.60,1032.00" fill="none" stroke="#231f20" stroke-width="1.35"/>
<path d="M573.70,1047.70 V1028.50 M579.10,1047.70 V1028.50" fill="none" stroke="#231f20" stroke-width="1.2"/>
<text x="584.05" y="1034.90" font-size="18.3" textLength="9.04" lengthAdjust="spacingAndGlyphs" fill="#231f20" style="" >5</text>
<text x="593.69" y="1047.60" font-size="25.0" textLength="6.92" lengthAdjust="spacingAndGlyphs" fill="#231f20" style="" >)</text>
<text x="711.35" y="1047.60" font-size="25.0" textLength="6.92" lengthAdjust="spacingAndGlyphs" fill="#231f20" style="" >(</text>
<path d="M719.80,1032.00 L726.00,1025.60 L732.20,1032.00" fill="none" stroke="#231f20" stroke-width="1.35"/>
<path d="M723.30,1047.70 V1028.50 M728.70,1047.70 V1028.50" fill="none" stroke="#231f20" stroke-width="1.2"/>
<text x="733.55" y="1034.90" font-size="18.3" textLength="9.81" lengthAdjust="spacingAndGlyphs" fill="#231f20" style="" >4</text>
<text x="741.97" y="1047.60" font-size="25.0" textLength="10.28" lengthAdjust="spacingAndGlyphs" fill="#231f20" style="" >,</text>
<path d="M758.90,1041.50 L765.10,1047.90 L771.30,1041.50" fill="none" stroke="#231f20" stroke-width="1.35"/>
<path d="M762.40,1026.00 V1045.00 M767.80,1026.00 V1045.00" fill="none" stroke="#231f20" stroke-width="1.2"/>
<text x="772.75" y="1034.90" font-size="18.3" textLength="9.04" lengthAdjust="spacingAndGlyphs" fill="#231f20" style="" >5</text>
<text x="782.39" y="1047.60" font-size="25.0" textLength="6.92" lengthAdjust="spacingAndGlyphs" fill="#231f20" style="" >)</text>
<text x="900.05" y="1047.60" font-size="25.0" textLength="6.92" lengthAdjust="spacingAndGlyphs" fill="#231f20" style="" >(</text>
<path d="M908.50,1032.00 L914.70,1025.60 L920.90,1032.00" fill="none" stroke="#231f20" stroke-width="1.35"/>
<path d="M912.00,1047.70 V1028.50 M917.40,1047.70 V1028.50" fill="none" stroke="#231f20" stroke-width="1.2"/>
<text x="922.25" y="1034.90" font-size="18.3" textLength="9.81" lengthAdjust="spacingAndGlyphs" fill="#231f20" style="" >4</text>
<text x="930.67" y="1047.60" font-size="25.0" textLength="10.28" lengthAdjust="spacingAndGlyphs" fill="#231f20" style="" >,</text>
<path d="M947.60,1032.00 L953.80,1025.60 L960.00,1032.00" fill="none" stroke="#231f20" stroke-width="1.35"/>
<path d="M951.10,1047.70 V1028.50 M956.50,1047.70 V1028.50" fill="none" stroke="#231f20" stroke-width="1.2"/>
<text x="961.45" y="1034.90" font-size="18.3" textLength="9.04" lengthAdjust="spacingAndGlyphs" fill="#231f20" style="" >5</text>
<text x="971.09" y="1047.60" font-size="25.0" textLength="6.92" lengthAdjust="spacingAndGlyphs" fill="#231f20" style="" >)</text>
<text x="509.87" y="1088.90" font-size="25.9" textLength="292.98" lengthAdjust="spacingAndGlyphs" fill="#231f20" style="" >Nuclear spin configuration</text>
<text transform="translate(180.70,880.35) rotate(-90)" x="0" y="0" font-size="24.8" textLength="200.79" lengthAdjust="spacingAndGlyphs" fill="#231f20">2Q-RB fidelity (%)</text>
<path d="M581.3,624.0 V726.8 Q581.3,729.8 584.3,729.8 H1019.1 Q1022.1,729.8 1022.1,726.8 V634.0 Q1022.1,631.0 1019.1,631.0 H764.2 Q761.2,631.0 761.2,628.0 V579.0 Q761.2,576.0 758.2,576.0 H581.3" fill="#fff" stroke="#231f20" stroke-width="1.3"/>
<path d="M581.3,576.0 H532.3 Q528.8,576.0 528.8,579.5 V620.5 Q528.8,624.0 532.3,624.0 H581.3 Z" fill="#e6e7e8" stroke="#231f20" stroke-width="1.3"/>
<path d="M823.4,576.3 H772.2 Q768.7,576.3 768.7,579.8 V620.2 Q768.7,623.7 772.2,623.7 H823.4 Z" fill="#e6e7e8" stroke="#231f20" stroke-width="1.3"/>
<path d="M823.4,576.3 H1020.5 V623.7 H823.4 Z" fill="#fff" stroke="#231f20" stroke-width="1.3"/>
<text x="532.18" y="605.50" font-size="25.4" textLength="40.14" lengthAdjust="spacingAndGlyphs" fill="#231f20" style="font-style:italic;" >e–e</text>
<text x="571.11" y="605.50" font-size="25.4" textLength="8.61" lengthAdjust="spacingAndGlyphs" fill="#231f20" style="" >:</text>
<text x="773.50" y="605.80" font-size="25.4" textLength="41.81" lengthAdjust="spacingAndGlyphs" fill="#231f20" style="font-style:italic;" >n–n</text>
<text x="813.11" y="605.80" font-size="25.4" textLength="8.61" lengthAdjust="spacingAndGlyphs" fill="#231f20" style="" >:</text>
<line x1="611.50" y1="584.70" x2="611.50" y2="615.40" stroke="#231f20" stroke-width="2.7" />
<line x1="596.00" y1="584.70" x2="627.00" y2="584.70" stroke="#231f20" stroke-width="2.7" />
<line x1="596.00" y1="615.40" x2="627.00" y2="615.40" stroke="#231f20" stroke-width="2.7" />
<circle cx="611.5" cy="600.1" r="7.3" fill="#231f20"/>
<line x1="848.50" y1="584.70" x2="848.50" y2="615.40" stroke="#ed2024" stroke-width="2.7" />
<line x1="833.00" y1="584.70" x2="864.00" y2="584.70" stroke="#ed2024" stroke-width="2.7" />
<line x1="833.00" y1="615.40" x2="864.00" y2="615.40" stroke="#ed2024" stroke-width="2.7" />
<polygon points="848.50,611.90 837.56,603.95 841.74,591.10 855.26,591.10 859.44,603.95" fill="#ed2024"/>
<line x1="611.30" y1="636.30" x2="611.30" y2="667.80" stroke="#89bfdc" stroke-width="2.7" />
<line x1="595.80" y1="636.30" x2="626.80" y2="636.30" stroke="#89bfdc" stroke-width="2.7" />
<line x1="595.80" y1="667.80" x2="626.80" y2="667.80" stroke="#89bfdc" stroke-width="2.7" />
<rect x="603.3" y="644.4" width="16.2" height="15.8" fill="#fff" stroke="#89bfdc" stroke-width="2.2"/>
<line x1="611.30" y1="688.50" x2="611.30" y2="719.60" stroke="#89bfdc" stroke-width="2.7" />
<line x1="595.80" y1="688.50" x2="626.80" y2="688.50" stroke="#89bfdc" stroke-width="2.7" />
<line x1="595.80" y1="719.60" x2="626.80" y2="719.60" stroke="#89bfdc" stroke-width="2.7" />
<rect x="602.2" y="695.0" width="18.2" height="17.4" fill="#89bfdc"/>
<line x1="848.50" y1="636.90" x2="848.50" y2="668.30" stroke="#f59375" stroke-width="2.7" />
<line x1="833.00" y1="636.90" x2="864.00" y2="636.90" stroke="#f59375" stroke-width="2.7" />
<line x1="833.00" y1="668.30" x2="864.00" y2="668.30" stroke="#f59375" stroke-width="2.7" />
<polygon points="848.50,664.40 837.09,656.11 841.45,642.69 855.55,642.69 859.91,656.11" fill="#fff" stroke="#f59375" stroke-width="2.3" stroke-linejoin="miter"/>
<line x1="848.50" y1="688.50" x2="848.50" y2="719.90" stroke="#f59375" stroke-width="2.7" />
<line x1="833.00" y1="688.50" x2="864.00" y2="688.50" stroke="#f59375" stroke-width="2.7" />
<line x1="833.00" y1="719.90" x2="864.00" y2="719.90" stroke="#f59375" stroke-width="2.7" />
<polygon points="848.50,716.00 837.56,708.05 841.74,695.20 855.26,695.20 859.44,708.05" fill="#f59375"/>
<text x="639.77" y="610.20" font-size="25.8" textLength="97.33" lengthAdjust="spacingAndGlyphs" fill="#231f20" style="" >Primitive</text>
<text x="875.41" y="610.00" font-size="25.8" textLength="34.44" lengthAdjust="spacingAndGlyphs" fill="#231f20" style="" >CZ</text>
<text x="639.22" y="660.20" font-size="25.8" textLength="81.34" lengthAdjust="spacingAndGlyphs" fill="#231f20" style="" >zCROT</text>
<text x="727.00" y="660.20" font-size="25.8" textLength="14.87" lengthAdjust="spacingAndGlyphs" fill="#231f20" style="font-style:italic;" >e</text>
<text x="741.48" y="668.40" font-size="18.0" textLength="7.11" lengthAdjust="spacingAndGlyphs" fill="#231f20" style="" >1</text>
<text x="639.68" y="713.00" font-size="25.8" textLength="68.98" lengthAdjust="spacingAndGlyphs" fill="#231f20" style="" >CROT</text>
<text x="715.31" y="713.00" font-size="25.8" textLength="14.64" lengthAdjust="spacingAndGlyphs" fill="#231f20" style="font-style:italic;" >e</text>
<text x="729.47" y="720.40" font-size="18.0" textLength="7.89" lengthAdjust="spacingAndGlyphs" fill="#231f20" style="" >1</text>
<text x="876.43" y="659.90" font-size="25.8" textLength="81.13" lengthAdjust="spacingAndGlyphs" fill="#231f20" style="" >zCROT</text>
<text x="963.25" y="659.90" font-size="25.8" textLength="13.85" lengthAdjust="spacingAndGlyphs" fill="#231f20" style="font-style:italic;" >e</text>
<text x="977.52" y="668.80" font-size="18.0" textLength="10.88" lengthAdjust="spacingAndGlyphs" fill="#231f20" style="" >2</text>
<text x="876.69" y="713.00" font-size="25.8" textLength="68.77" lengthAdjust="spacingAndGlyphs" fill="#231f20" style="" >CROT</text>
<text x="951.12" y="713.00" font-size="25.8" textLength="14.53" lengthAdjust="spacingAndGlyphs" fill="#231f20" style="font-style:italic;" >e</text>
<text x="964.28" y="720.40" font-size="18.0" textLength="11.36" lengthAdjust="spacingAndGlyphs" fill="#231f20" style="" >2</text>
<line x1="335.60" y1="803.30" x2="335.60" y2="880.50" stroke="#89bfdc" stroke-width="2.7" />
<line x1="320.10" y1="803.30" x2="351.10" y2="803.30" stroke="#89bfdc" stroke-width="2.7" />
<line x1="320.10" y1="880.50" x2="351.10" y2="880.50" stroke="#89bfdc" stroke-width="2.7" />
<rect x="327.5" y="834.3" width="16.2" height="15.5" fill="#fff" stroke="#89bfdc" stroke-width="2.2"/>
<line x1="354.60" y1="851.30" x2="354.60" y2="938.30" stroke="#89bfdc" stroke-width="2.7" />
<line x1="339.10" y1="851.30" x2="370.10" y2="851.30" stroke="#89bfdc" stroke-width="2.7" />
<line x1="339.10" y1="938.30" x2="370.10" y2="938.30" stroke="#89bfdc" stroke-width="2.7" />
<rect x="345.0" y="885.8" width="18.9" height="18.0" fill="#89bfdc"/>
<line x1="392.20" y1="902.20" x2="392.20" y2="972.60" stroke="#f59375" stroke-width="2.7" />
<line x1="376.70" y1="902.20" x2="407.70" y2="902.20" stroke="#f59375" stroke-width="2.7" />
<line x1="376.70" y1="972.60" x2="407.70" y2="972.60" stroke="#f59375" stroke-width="2.7" />
<polygon points="392.20,949.70 381.26,941.75 385.44,928.90 398.96,928.90 403.14,941.75" fill="#fff" stroke="#f59375" stroke-width="2.5" stroke-linejoin="miter"/>
<line x1="373.30" y1="615.40" x2="373.30" y2="646.40" stroke="#ed2024" stroke-width="2.7" />
<line x1="357.80" y1="615.40" x2="388.80" y2="615.40" stroke="#ed2024" stroke-width="2.7" />
<line x1="357.80" y1="646.40" x2="388.80" y2="646.40" stroke="#ed2024" stroke-width="2.7" />
<polygon points="373.30,644.05 360.70,634.89 365.51,620.08 381.09,620.08 385.90,634.89" fill="#ed2024"/>
<line x1="411.10" y1="703.90" x2="411.10" y2="770.40" stroke="#f59375" stroke-width="2.7" />
<line x1="395.60" y1="703.90" x2="426.60" y2="703.90" stroke="#f59375" stroke-width="2.7" />
<line x1="395.60" y1="770.40" x2="426.60" y2="770.40" stroke="#f59375" stroke-width="2.7" />
<polygon points="411.10,750.90 398.36,741.64 403.22,726.66 418.98,726.66 423.84,741.64" fill="#f59375"/>
<line x1="373.30" y1="757.10" x2="373.30" y2="774.70" stroke="#231f20" stroke-width="2.7" />
<line x1="357.80" y1="757.10" x2="388.80" y2="757.10" stroke="#231f20" stroke-width="2.7" />
<line x1="357.80" y1="774.70" x2="388.80" y2="774.70" stroke="#231f20" stroke-width="2.7" />
<circle cx="373.3" cy="765.8" r="7.3" fill="#231f20"/>
<line x1="562.10" y1="841.30" x2="562.10" y2="862.00" stroke="#231f20" stroke-width="2.7" />
<line x1="546.60" y1="841.30" x2="577.60" y2="841.30" stroke="#231f20" stroke-width="2.7" />
<line x1="546.60" y1="862.00" x2="577.60" y2="862.00" stroke="#231f20" stroke-width="2.7" />
<circle cx="562.1" cy="851.8" r="7.3" fill="#231f20"/>
<line x1="750.70" y1="827.90" x2="750.70" y2="848.60" stroke="#231f20" stroke-width="2.7" />
<line x1="735.20" y1="827.90" x2="766.20" y2="827.90" stroke="#231f20" stroke-width="2.7" />
<line x1="735.20" y1="848.60" x2="766.20" y2="848.60" stroke="#231f20" stroke-width="2.7" />
<circle cx="750.7" cy="837.7" r="7.3" fill="#231f20"/>
<line x1="939.40" y1="750.30" x2="939.40" y2="764.70" stroke="#231f20" stroke-width="2.7" />
<line x1="923.90" y1="750.30" x2="954.90" y2="750.30" stroke="#231f20" stroke-width="2.7" />
<line x1="923.90" y1="764.70" x2="954.90" y2="764.70" stroke="#231f20" stroke-width="2.7" />
<circle cx="939.4" cy="757.2" r="7.3" fill="#231f20"/>
</svg>
</body></html>
